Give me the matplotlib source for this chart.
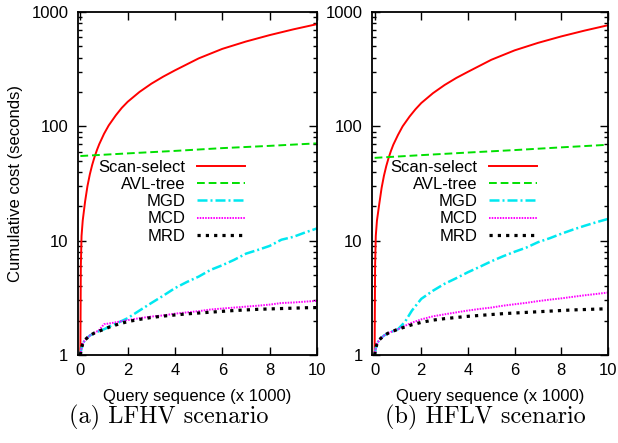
import matplotlib
matplotlib.use("Agg")
import matplotlib.pyplot as plt
from matplotlib.ticker import FixedLocator, FixedFormatter, LogLocator, NullFormatter

plt.rcParams['font.family'] = ['Liberation Sans', 'DejaVu Sans']

# --- data ---
x_scan = [0, 0.02, 0.05, 0.1, 0.2, 0.3, 0.4, 0.5, 0.6, 0.7, 0.8, 1, 1.2, 1.5, 1.75, 2,
          2.5, 3, 3.5, 4, 5, 6, 7, 8, 9, 10]
scan_a = [1, 6, 11, 15, 22, 30, 38, 46, 54, 62, 70, 86, 102, 125, 145, 164,
          200, 236, 272, 309, 393, 476, 552, 628, 705, 783]
scan_b = [1, 6, 11, 15, 21, 29, 37, 45, 53, 61, 69, 84, 100, 122, 141, 160,
          195, 230, 265, 300, 382, 462, 537, 612, 688, 766]

x_avl = [0, 2, 4, 6, 8, 10]
avl_a = [55, 58, 61, 64.5, 67.5, 71]
avl_b = [53, 56, 59, 62, 65.5, 69]

x_m = [0, 0.05, 0.1, 0.2, 0.4, 0.6, 0.8, 1.0, 1.3, 1.6, 2, 2.5, 3, 3.5, 4, 4.5,
       5, 5.5, 6, 6.5, 7, 7.5, 8, 8.5, 9, 9.5, 10]

mgd_a = [1, 1.15, 1.25, 1.36, 1.48, 1.56, 1.62, 1.68, 1.8, 1.92, 2.1, 2.45, 2.85, 3.3,
         3.85, 4.35, 4.85, 5.55, 6.1, 6.8, 7.7, 8.3, 9.0, 10.2, 10.8, 11.8, 12.8]
mcd_a = [1, 1.15, 1.25, 1.36, 1.48, 1.56, 1.66, 1.86, 1.9, 1.95, 2.02, 2.1, 2.17, 2.22,
         2.3, 2.36, 2.42, 2.5, 2.55, 2.6, 2.65, 2.7, 2.76, 2.85, 2.88, 2.93, 2.98]
mrd_a = [1, 1.15, 1.25, 1.36, 1.48, 1.56, 1.62, 1.68, 1.78, 1.86, 1.96, 2.05, 2.13, 2.19,
         2.24, 2.29, 2.33, 2.37, 2.41, 2.45, 2.48, 2.51, 2.53, 2.55, 2.57, 2.59, 2.6]

mgd_b = [1, 1.15, 1.25, 1.36, 1.48, 1.56, 1.62, 1.68, 1.95, 2.45, 3.1, 3.65, 4.2, 4.7,
         5.3, 5.9, 6.6, 7.3, 8.0, 8.7, 9.7, 10.5, 11.5, 12.5, 13.5, 14.5, 15.5]
mcd_b = [1, 1.15, 1.25, 1.36, 1.48, 1.56, 1.62, 1.68, 1.8, 1.92, 2.05, 2.18, 2.27, 2.36,
         2.45, 2.53, 2.6, 2.7, 2.78, 2.86, 2.96, 3.05, 3.13, 3.23, 3.33, 3.42, 3.52]
mrd_b = [1, 1.15, 1.25, 1.36, 1.48, 1.56, 1.62, 1.68, 1.76, 1.84, 1.93, 2.02, 2.08, 2.13,
         2.18, 2.22, 2.26, 2.3, 2.33, 2.36, 2.39, 2.42, 2.45, 2.48, 2.5, 2.52, 2.54]

labels = ['Scan-select', 'AVL-tree', 'MGD', 'MCD', 'MRD']
captions = ['(a) LFHV scenario', '(b) HFLV scenario']
yticks = [1, 10, 100, 1000]
xticks = [0, 2, 4, 6, 8, 10]

panels = [(scan_a, avl_a, mgd_a, mcd_a, mrd_a), (scan_b, avl_b, mgd_b, mcd_b, mrd_b)]

fig = plt.figure(figsize=(6.18, 4.43), dpi=100)
rects = [[0.1262, 0.1986, 0.3867, 0.7743], [0.6024, 0.1986, 0.3814, 0.7743]]
cap_x = [169 / 618., 485 / 618.]

for i, (scan, avl, mgd, mcd, mrd) in enumerate(panels):
    ax = fig.add_axes(rects[i])
    ax.plot(x_scan, scan, color='#ff0000', lw=1.4, label=labels[0])
    ax.plot(x_avl, avl, color='#00e000', lw=1.4, ls=(0, (4, 2)), label=labels[1])
    ax.plot(x_m, mgd, color='#00e8f0', lw=1.8, ls=(0, (4, 1.2, 0.8, 1.2)), label=labels[2])
    ax.plot(x_m, mcd, color='#ff00ff', lw=1.4, ls=(0, (0.8, 0.6)), label=labels[3])
    ax.plot(x_m, mrd, color='black', lw=2.3, ls=(0, (1, 1.6)), label=labels[4])

    ax.set_yscale('log')
    ax.set_xlim(-0.1, 10)
    ax.set_ylim(1, 1000)
    ax.yaxis.set_major_locator(FixedLocator(yticks))
    ax.yaxis.set_major_formatter(FixedFormatter([str(v) for v in yticks]))
    ax.yaxis.set_minor_locator(LogLocator(base=10, subs=range(2, 10)))
    ax.yaxis.set_minor_formatter(NullFormatter())
    ax.set_xticks(xticks)
    ax.tick_params(which='both', direction='in', top=True, right=True, labelsize=12, width=1.0)
    ax.tick_params(which='major', length=5.5)
    ax.tick_params(which='minor', length=3)
    ax.tick_params(axis='y', pad=7)
    ax.tick_params(axis='x', pad=6)
    for s in ax.spines.values():
        s.set_linewidth(1.3)

    ax.set_xlabel('Query sequence (x 1000)', fontsize=12)
    ax.xaxis.set_label_coords(0.5, -0.1)

    ax.legend(loc='upper right', bbox_to_anchor=(0.70, 0.569), markerfirst=False,
              frameon=False, fontsize=12, handlelength=2.9, handletextpad=0.7,
              labelspacing=0.13, borderpad=0, borderaxespad=0)

    fig.text(cap_x[i], 1 - 417 / 443., captions[i], family='cmr10', fontsize=17.5,
             ha='center', va='center')

fig.text(15.5 / 618., 1 - 183.5 / 443., 'Cumulative cost (seconds)', rotation=90,
         fontsize=12, ha='center', va='center')

fig.savefig('out.png', dpi=100)
